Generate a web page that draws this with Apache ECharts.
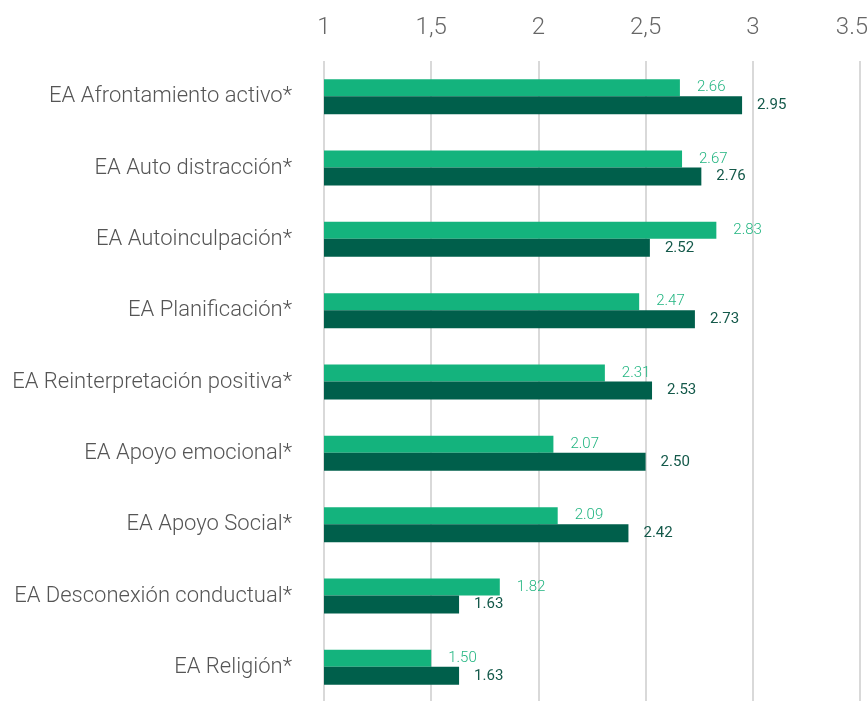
<!DOCTYPE html>
<html>
<head>
<meta charset="utf-8">
<script src="https://cdn.jsdelivr.net/npm/echarts@6/dist/echarts.min.js"></script>
<style>
  html, body { margin: 0; padding: 0; background: #fff; }
  #chart { width: 868px; height: 701px; }
</style>
</head>
<body>
<div id="chart"></div>
<script>
// Coping strategy scores (scale 1–3.5), two groups per strategy
const categories = [
  'EA Afrontamiento activo*',
  'EA Auto distracción*',
  'EA Autoinculpación*',
  'EA Planificación*',
  'EA Reinterpretación positiva*',
  'EA Apoyo emocional*',
  'EA Apoyo Social*',
  'EA Desconexión conductual*',
  'EA Religión*'
];
const groupA = [2.66, 2.67, 2.83, 2.47, 2.31, 2.07, 2.09, 1.82, 1.50];
const groupB = [2.95, 2.76, 2.52, 2.73, 2.53, 2.50, 2.42, 1.63, 1.63];
const tickValues = [1, 1.5, 2, 2.5, 3, 3.5];
const tickLabels = ['1', '1,5', '2', '2,5', '3', '3.5'];

const LIGHT = '#14b37d';
const DARK = '#005f4b';
const FONT = 'Roboto, sans-serif';

const chart = echarts.init(document.getElementById('chart'));
chart.setOption({
  animation: false,
  grid: {
    left: 324, right: 8, top: 61, bottom: -2,
    containLabel: false,
    outerBoundsMode: 'none'
  },
  xAxis: {
    type: 'value',
    position: 'top',
    min: 1,
    max: 3.5,
    interval: 0.5,
    axisLine: { show: false },
    axisTick: { show: false },
    splitLine: { show: true, lineStyle: { color: '#d9d9d9', width: 2 } },
    axisLabel: {
      margin: 21,
      fontFamily: FONT,
      fontWeight: 300,
      fontSize: 24,
      color: '#666',
      formatter: function (v, idx) {
        const i = tickValues.findIndex(t => Math.abs(t - v) < 1e-9);
        if (i < 0) return '';
        // last label: trailing spacer keeps it inside the canvas
        return i === tickValues.length - 1 ? tickLabels[i] + '{gap|}' : tickLabels[i];
      },
      rich: { gap: { width: 16 } }
    }
  },
  yAxis: {
    type: 'category',
    inverse: true,
    data: categories,
    axisLine: { show: false },
    axisTick: { show: false },
    axisLabel: {
      margin: 32,
      fontFamily: FONT,
      fontWeight: 300,
      fontSize: 22,
      color: '#555'
    }
  },
  series: [
    {
      type: 'bar',
      data: groupA,
      barWidth: 17,
      barGap: '0%',
      itemStyle: { color: LIGHT },
      label: {
        show: true,
        position: 'right',
        distance: 17,
        fontFamily: FONT,
        fontWeight: 300,
        fontSize: 15,
        color: '#22b581',
        formatter: p => p.value.toFixed(2)
      }
    },
    {
      type: 'bar',
      data: groupB,
      barWidth: 18,
      barGap: '0%',
      itemStyle: { color: DARK },
      label: {
        show: true,
        position: 'right',
        distance: 15,
        fontFamily: FONT,
        fontSize: 15,
        color: '#14594a',
        formatter: p => p.value.toFixed(2)
      }
    }
  ]
});
</script>
</body>
</html>
